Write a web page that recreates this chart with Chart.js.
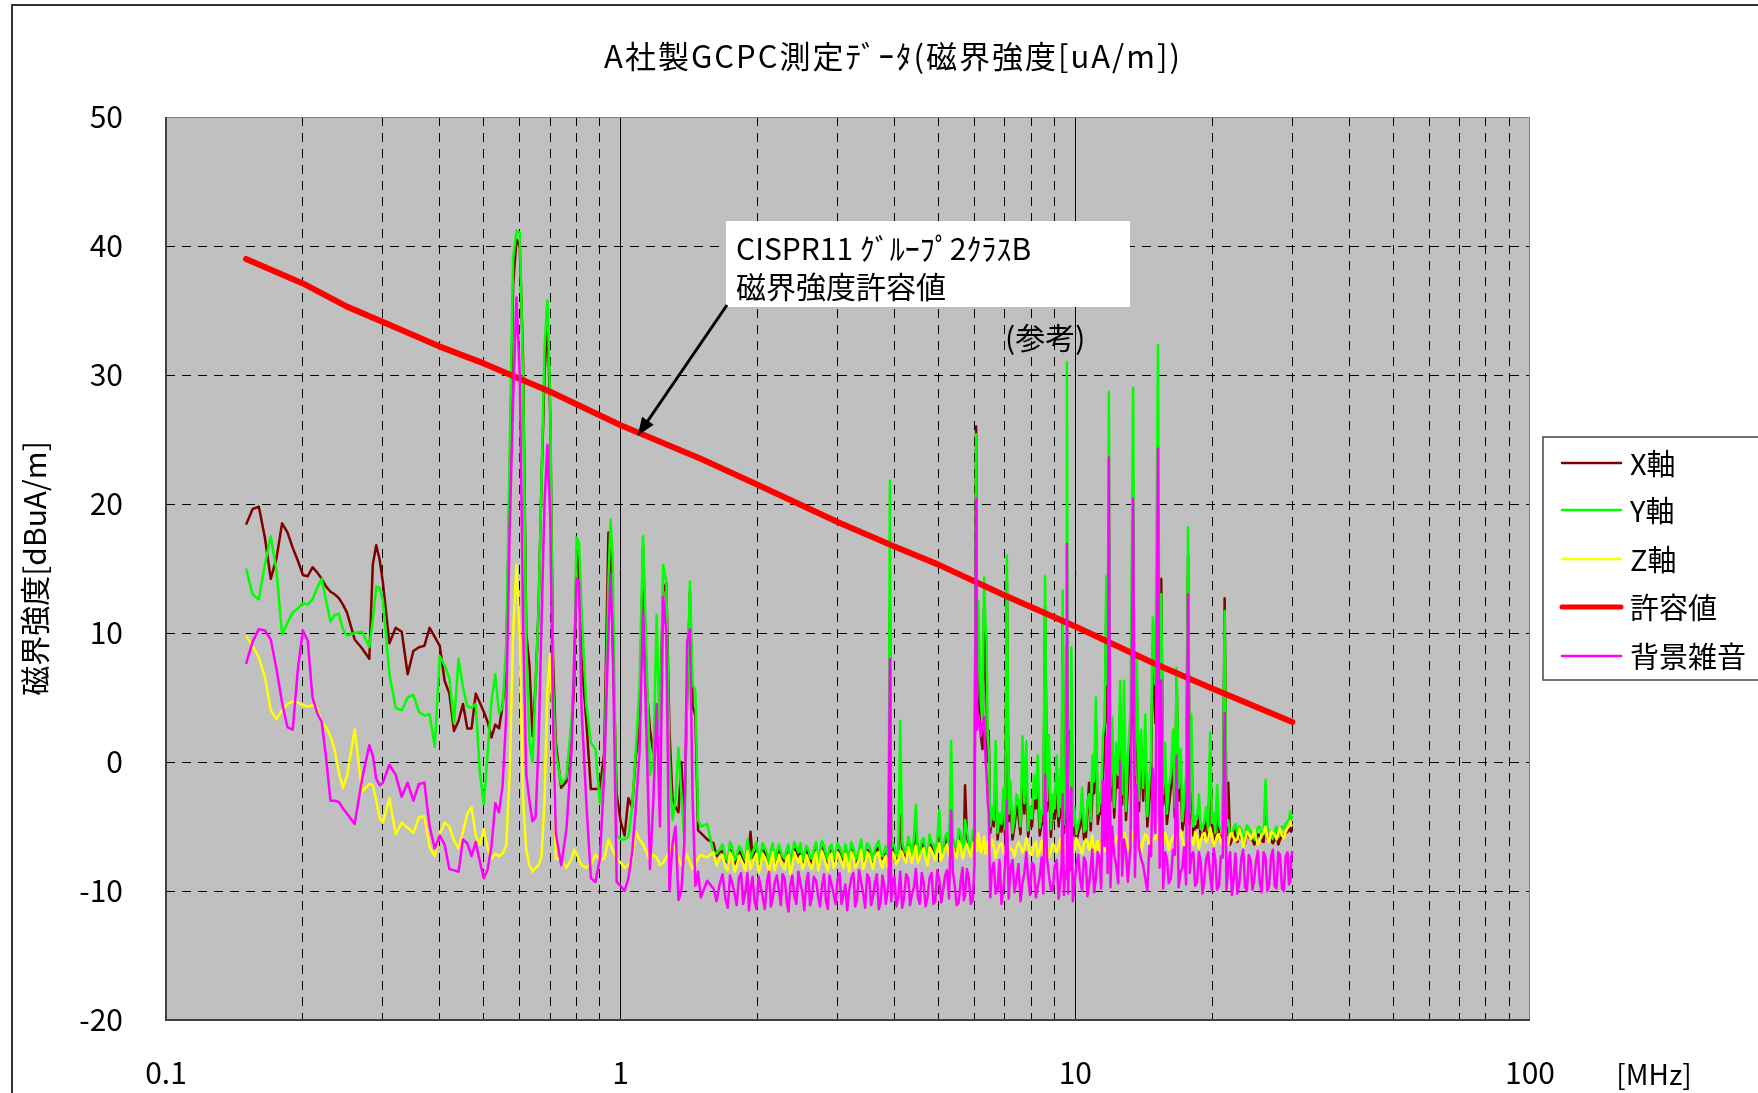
<!DOCTYPE html>
<html lang="ja">
<head>
<meta charset="utf-8">
<title>A社製GCPC測定データ</title>
<script src="https://cdn.jsdelivr.net/npm/chart.js@4.4.1/dist/chart.umd.min.js"></script>
<style>
  html, body { margin: 0; padding: 0; background: #fff; overflow: hidden; }
  canvas { display: block; }
</style>
</head>
<body>
<canvas id="magChart" width="1758" height="1093"></canvas>
<script>
const FONT = "'Noto Sans CJK JP', 'Noto Sans', sans-serif";

const chartTitle = 'A社製GCPC測定ﾃﾞｰﾀ(磁界強度[uA/m])';
const yTitle = '磁界強度[dBuA/m]';
const xUnit = '[MHz]';
const noteLines = ['CISPR11 ｸﾞﾙｰﾌﾟ2ｸﾗｽB', '磁界強度許容値'];
const refNote = '(参考)';
const seriesNames = ['X軸', 'Y軸', 'Z軸', '許容値', '背景雑音'];

// x axis: log grid lines and labelled decades
const xGridVals = [0.1, 0.2, 0.3, 0.4, 0.5, 0.6, 0.7, 0.8, 0.9,
  1, 2, 3, 4, 5, 6, 7, 8, 9,
  10, 20, 30, 40, 50, 60, 70, 80, 90, 100];
const xTickLabels = { 0.1: '0.1', 1: '1', 10: '10', 100: '100' };

// measured frequencies [MHz]
const freqMHz = [
  // 0.15 - 0.55
  0.150, 0.155, 0.160, 0.165, 0.170, 0.175, 0.180, 0.185, 0.190, 0.195,
  0.200, 0.205, 0.210, 0.215, 0.220, 0.225, 0.230, 0.235, 0.240, 0.245,
  0.250, 0.260, 0.270, 0.280, 0.285, 0.290, 0.295, 0.300, 0.310, 0.320,
  0.330, 0.340, 0.350, 0.360, 0.370, 0.380, 0.390, 0.400, 0.410, 0.420,
  0.430, 0.440, 0.450, 0.460, 0.470, 0.480, 0.490, 0.500, 0.510, 0.520,
  0.530, 0.540, 0.550,
  // 0.56 - 1.6
  0.56, 0.57, 0.58, 0.59, 0.60, 0.61, 0.62, 0.63, 0.64, 0.65,
  0.66, 0.67, 0.68, 0.69, 0.70, 0.71, 0.72, 0.74, 0.76, 0.78,
  0.79, 0.80, 0.81, 0.82, 0.84, 0.86, 0.88, 0.90, 0.92, 0.94,
  0.95, 0.96, 0.98, 1.00, 1.02, 1.04, 1.06, 1.08, 1.10, 1.12,
  1.14, 1.16, 1.18, 1.20, 1.22, 1.24, 1.26, 1.28, 1.30, 1.32,
  1.34, 1.36, 1.38, 1.40, 1.42, 1.44, 1.46, 1.48, 1.50, 1.55,
  1.60,
  // 1.6 - 30
  1.625, 1.65, 1.675, 1.70, 1.72, 1.74, 1.76, 1.78, 1.80, 1.82,
  1.84, 1.86, 1.88, 1.90, 1.915, 1.93, 1.95, 1.97, 1.99, 2.01,
  2.03, 2.05, 2.075, 2.10, 2.12, 2.14, 2.16, 2.18, 2.205, 2.23,
  2.25, 2.27, 2.295, 2.32, 2.34, 2.36, 2.385, 2.41, 2.435, 2.46,
  2.485, 2.51, 2.535, 2.56, 2.585, 2.61, 2.635, 2.66, 2.69, 2.72,
  2.745, 2.77, 2.80, 2.83, 2.855, 2.88, 2.91, 2.94, 2.97, 3.00,
  3.03, 3.06, 3.09, 3.12, 3.15, 3.18, 3.215, 3.25, 3.28, 3.31,
  3.345, 3.38, 3.415, 3.45, 3.485, 3.52, 3.555, 3.59, 3.625, 3.66,
  3.695, 3.73, 3.765, 3.80, 3.83, 3.86, 3.885, 3.91, 3.935, 3.96,
  4.00, 4.04, 4.08, 4.12, 4.16, 4.20, 4.245, 4.29, 4.33, 4.37,
  4.415, 4.46, 4.505, 4.55, 4.595, 4.64, 4.685, 4.73, 4.78, 4.83,
  4.875, 4.92, 4.97, 5.02, 5.07, 5.12, 5.17, 5.22, 5.275, 5.33,
  5.38, 5.43, 5.485, 5.54, 5.595, 5.65, 5.685, 5.72, 5.775, 5.83,
  5.89, 5.95, 6.00, 6.05, 6.085, 6.12, 6.16, 6.20, 6.25, 6.30,
  6.34, 6.38, 6.415, 6.45, 6.50, 6.55, 6.615, 6.68, 6.745, 6.81,
  6.88, 6.95, 7.01, 7.07, 7.135, 7.20, 7.275, 7.35, 7.425, 7.50,
  7.575, 7.65, 7.725, 7.80, 7.875, 7.95, 8.03, 8.11, 8.19, 8.27,
  8.35, 8.43, 8.505, 8.58, 8.665, 8.75, 8.835, 8.92, 9.01, 9.10,
  9.19, 9.28, 9.33, 9.38, 9.44, 9.50, 9.54, 9.58, 9.64, 9.70,
  9.75, 9.80, 9.875, 9.95, 10.05, 10.15, 10.25, 10.35, 10.45, 10.55,
  10.635, 10.72, 10.81, 10.90, 11.00, 11.10, 11.20, 11.30, 11.40, 11.50,
  11.60, 11.70, 11.775, 11.85, 11.95, 12.05, 12.175, 12.30, 12.425, 12.55,
  12.675, 12.80, 12.925, 13.05, 13.225, 13.40, 13.525, 13.65, 13.80, 13.95,
  14.10, 14.25, 14.40, 14.55, 14.675, 14.80, 15.00, 15.20, 15.325, 15.45,
  15.60, 15.75, 15.90, 16.05, 16.225, 16.40, 16.55, 16.70, 16.875, 17.05,
  17.20, 17.35, 17.525, 17.70, 17.85, 18.00, 18.175, 18.35, 18.525, 18.70,
  18.875, 19.05, 19.225, 19.40, 19.60, 19.80, 19.975, 20.15, 20.325, 20.50,
  20.70, 20.90, 21.10, 21.30, 21.50, 21.70, 21.90, 22.10, 22.30, 22.50,
  22.725, 22.95, 23.175, 23.40, 23.625, 23.85, 24.075, 24.30, 24.525, 24.75,
  24.975, 25.20, 25.45, 25.70, 25.95, 26.20, 26.45, 26.70, 26.95, 27.20,
  27.45, 27.70, 27.95, 28.20, 28.475, 28.75, 29.025, 29.30, 29.50, 29.70,
  29.85, 30.00
];

// X軸 [dBuA/m]
const xAxisVals = [
  18.4, 19.6, 19.8, 17.4, 14.2, 15.8, 18.5, 17.8, 16.6, 15.6,
  14.5, 14.4, 15.1, 14.7, 14.2, 13.6, 13.2, 13.0, 12.7, 12.2,
  11.6, 9.5, 8.8, 8.0, 15.3, 16.8, 15.7, 13.9, 9.2, 10.4,
  10.1, 6.8, 8.6, 8.9, 9.0, 10.4, 9.7, 9.0, 6.3, 5.3,
  2.4, 3.2, 4.5, 2.6, 2.6, 5.3, 4.6, 3.9, 3.1, 1.9,
  2.9, 2.6, 4.4,
  7, 22, 37, 40.5, 40.0, 31, 10, 7.5, 2.0, 6,
  12, 22, 30, 34.5, 27, 8, 1.5, -2.0, -1.5, 2.5,
  6, 16.4, 15, 8, 3.2, -2.1, -2.1, -2.1, 0.7, 17.8,
  17.8, 9.6, -2.5, -4.6, -5.7, -2.8, -3.5, 0.5, 2.5, 16.7,
  6, 2.5, 0.7, 2.5, 4, 13.2, 13.9, 2.5, -2.8, -3.5,
  -3.9, 0, -4.6, 5, 13.2, 4.3, 3.6, -5.3, -5.5, -6,
  -6.3,
  -7.3, -7.0, -6.9, -7.6, -7.8, -6.8, -7.0, -7.9, -7.5, -6.9,
  -7.1, -7.5, -7.8, -6.6, -7.0, -5.4, -7.4, -7.2, -6.8, -7.9,
  -7.6, -6.8, -7.0, -7.4, -7.9, -7.2, -6.9, -7.8, -7.3, -6.9,
  -7.2, -7.5, -7.7, -7.0, -6.8, -8.0, -7.4, -6.7, -7.0, -7.3,
  -6.8, -7.8, -7.5, -6.9, -7.1, -7.6, -7.8, -7.1, -6.7, -7.9,
  -7.3, -6.6, -6.9, -7.4, -7.8, -7.0, -6.8, -7.7, -7.4, -6.8,
  -7.0, -7.3, -7.6, -6.8, -7.2, -7.9, -6.7, -7.0, -7.8, -7.5,
  -7.1, -6.5, -7.7, -7.3, -6.8, -6.9, -7.3, -7.8, -7.0, -6.8,
  -6.6, -7.4, -7.5, -7.1, -6.9, -7.6, -7.3, 12.0, -7.1, -6.6,
  -6.9, -7.5, -7.3, -4.1, -6.7, -7.0, -7.4, -6.2, -6.8, -7.4,
  -6.4, -5.0, -7.4, -7.1, -6.5, -6.3, -7.1, -7.6, -6.1, -6.6,
  -6.8, -7.2, -6.5, -5.8, -7.3, -6.9, -6.2, -5.9, -7.0, -3.0,
  -6.3, -6.7, -7.1, -5.6, -6.0, -7.2, -6.9, -1.8, -5.8, -6.4,
  -7.2, -5.8, -5.6, 26.0, 3.0, 10.5, 5.0, 2.0, 1.0, 12.0,
  8.0, 5.0, 0.0, 2.4, -5.5, -4.0, -5.0, -1.0, -6.0, -4.8,
  -5.4, -3.5, -5.8, 14.0, -4.6, -3.0, -6.0, -5.0, -3.4, -4.2,
  -5.6, -1.0, -4.0, -1.5, -5.8, -4.5, -5.0, -3.0, -3.6, -2.0,
  -5.7, -4.8, -4.8, 12.0, -3.8, -1.0, -5.8, -4.0, -4.4, -2.5,
  -5.0, -3.0, -4.3, 11.0, -5.5, -4.0, -3.8, 9.0, -5.2, 2.4,
  -4.5, 5.0, -5.7, -4.5, -6.2, -5.5, -5.0, -4.0, -6.0, -5.8,
  -3.8, -1.6, -5.3, -2.5, -2.4, 3.0, -4.8, -4.0, -4.0, -1.0,
  1.0, 12.0, 3.0, 10.0, -3.0, 1.0, -4.3, -1.0, -2.0, 4.5,
  -3.3, 3.0, -4.5, -2.0, 2.0, 5.8, -2.0, 5.8, -3.8, 1.1,
  -3.0, 1.0, -5.0, -3.0, -1.0, 9.0, 3.0, 12.0, 2.0, 14.2,
  -3.3, -1.0, -4.8, -3.5, -2.0, 0.0, -4.3, 6.5, -3.0, -1.5,
  -5.3, -4.5, -2.0, 16.0, -4.8, 1.0, -5.7, -5.0, -5.1, -4.0,
  -5.9, -5.8, -5.3, -4.5, -6.0, 0.5, -5.4, -5.0, -6.1, -3.0,
  -5.6, -5.8, -6.0, 12.7, -5.7, -1.6, -6.4, -6.0, -5.8, -5.3,
  -6.2, -5.5, -5.9, -6.2, -6.3, -5.4, -5.8, -6.0, -6.0, -6.4,
  -6.1, -5.6, -5.7, -6.1, -6.2, -3.0, -5.9, -5.8, -6.1, -6.3,
  -6.0, -5.5, -6.4, -6.0, -5.7, -5.7, -5.5, -5.4, -5.3, -5.0,
  -5.4, -5.2
];

// Y軸 [dBuA/m]
const yAxisVals = [
  15.0, 13.0, 12.6, 15.3, 17.5, 14.8, 9.9, 10.8, 11.6, 11.9,
  12.3, 12.2, 12.6, 13.5, 14.2, 12.5, 10.9, 11.4, 11.5, 10.3,
  9.8, 10.0, 10.1, 8.9, 11.0, 13.6, 13.5, 12.5, 6.8, 4.2,
  4.0, 5.0, 5.2, 3.9, 3.6, 3.7, 1.2, 8.2, 7.5, 6.5,
  3.0, 8.0, 5.8, 4.3, 4.2, 4.5, -0.8, -3.3, 0.8, 4.8,
  6.8, 3.8, 4.2,
  9, 24, 39, 41.2, 41.0, 30, 9, 1.5, 0, 6,
  12, 22, 32, 35.8, 28, 6, 0.7, -1.7, -1.2, 3.4,
  7, 17.4, 17, 12, 4.5, 1.5, 1.0, -3.2, -0.5, 14,
  18.8, 16, -5.7, -6.0, -6.0, -5.8, -3.5, 1.0, 6.0, 17.5,
  8.0, -1.0, 0.0, 11.4, 1.0, 15.3, 14, 0, -4.5, -3.0,
  1.1, -2.5, -6.0, 5, 14.0, 6.0, 5.5, -4.5, -5.0, -4.8,
  -7.0,
  -7.1, -6.8, -6.4, -7.4, -7.7, -6.2, -6.6, -7.6, -7.3, -6.5,
  -6.7, -7.2, -7.6, -6.0, -6.8, -7.5, -7.0, -6.6, -6.2, -7.8,
  -7.4, -6.3, -6.6, -7.1, -7.8, -6.9, -6.3, -7.7, -7.0, -6.4,
  -6.9, -7.3, -7.5, -6.7, -6.4, -7.9, -7.1, -6.2, -6.6, -7.0,
  -6.3, -7.6, -7.2, -6.5, -6.7, -7.4, -7.5, -6.8, -6.2, -7.7,
  -7.0, -6.1, -6.5, -7.2, -7.6, -6.6, -6.4, -7.5, -7.1, -6.3,
  -6.6, -7.0, -7.4, -6.4, -6.9, -7.8, -6.2, -6.7, -7.6, -7.3,
  -6.8, -6.0, -7.5, -7.1, -6.3, -6.5, -7.0, -7.6, -6.7, -6.4,
  -6.1, -7.2, -7.3, -6.9, -6.5, -7.4, -7.0, 21.8, -6.8, -6.2,
  -6.5, -7.3, -7.0, 3.2, -6.2, -6.8, -7.1, -5.8, -6.4, -7.2,
  -5.9, -3.3, -7.2, -6.9, -6.1, -5.9, -6.8, -7.5, -5.6, -6.3,
  -6.4, -7.0, -6.0, -3.7, -7.1, -6.6, -5.8, -5.5, -6.7, 1.6,
  -5.9, -6.4, -6.8, -5.2, -5.5, -7.0, -6.6, -4.5, -5.3, -6.2,
  -6.9, -5.4, -5.0, 25.4, 5.0, 12.5, 8.0, 4.5, 3.0, 14.3,
  11.0, 9.6, 2.0, 1.0, -5.0, -3.5, -4.5, 1.6, -5.5, -4.0,
  -4.8, -2.0, -5.2, 16.0, -4.0, -1.5, -5.5, -4.2, -2.5, -3.0,
  -5.0, 2.0, -3.2, 1.6, -5.3, -3.5, -4.4, -1.0, -2.8, 0.5,
  -5.1, -3.8, -4.0, 14.4, -3.0, 2.1, -5.2, -2.5, -3.6, 0.5,
  -4.2, -0.5, -3.5, 13.3, -4.8, -2.0, -3.0, 31.0, -4.5, -1.5,
  -3.8, 8.9, -5.0, -3.5, -5.6, -4.8, -4.3, -2.0, -5.4, -5.2,
  -3.0, -2.5, -4.6, 0.5, -1.5, 5.0, -4.0, -2.5, -3.2, 2.0,
  3.0, 14.4, 6.0, 28.7, -2.0, 3.5, -3.5, 1.5, -1.0, 6.3,
  -2.5, 6.3, -3.8, 0.5, 4.0, 29.0, -1.0, 8.3, -3.0, 2.5,
  -2.0, 3.7, -4.2, -1.5, 0.5, 11.2, 6.0, 32.3, 3.0, 13.0,
  -2.5, 1.5, -4.0, -2.0, -1.0, 2.5, -3.5, 7.3, -2.0, 1.0,
  -4.6, -3.0, -1.0, 18.2, -4.0, 3.7, -5.0, -4.2, -4.4, -2.5,
  -5.2, -5.0, -4.6, -3.5, -5.3, 2.3, -4.7, -4.0, -5.5, -1.8,
  -4.9, -5.2, -5.4, 11.7, -5.0, -4.5, -5.8, -5.6, -5.1, -4.8,
  -5.6, -5.0, -5.2, -5.8, -5.7, -4.9, -5.1, -5.5, -5.4, -6.0,
  -5.5, -5.1, -5.0, -5.7, -5.6, -1.4, -5.2, -5.3, -5.5, -5.9,
  -5.4, -5.0, -5.8, -5.6, -5.0, -5.2, -4.8, -4.6, -4.5, -3.8,
  -4.4, -4.2
];

// Z軸 [dBuA/m]
const zAxisVals = [
  9.8, 9.0, 8.1, 6.6, 4.0, 3.3, 4.0, 4.5, 4.7, 4.6,
  4.4, 4.3, 4.4, 4.2, 3.1, 2.7, 2.0, 0.9, -0.8, -2.0,
  -1.1, 2.5, -2.3, -1.7, -1.8, -3.0, -4.3, -4.7, -2.8, -5.6,
  -4.7, -5.1, -5.5, -4.3, -4.2, -6.6, -7.3, -5.6, -4.7, -5.0,
  -6.1, -6.7, -5.4, -4.0, -3.5, -5.7, -6.4, -5.2, -6.7, -7.5,
  -7.1, -7.3, -7.1,
  -6.5, -1, 10, 15.3, 9.6, -3, -6.8, -8, -8.5, -8.2,
  -8.0, -7.3, -3, 5.5, 8.4, 2, -7.5, -7.5, -8.2, -7.5,
  -6.8, -7.1, -7.6, -8.0, -8.2, -7.9, -7.2, -7.6, -7.5, -6.0,
  -6.4, -6.8, -7.5, -7.8, -8.2, -8.0, -7.5, -5.4, -6.0, -6.4,
  -7.0, -7.6, -7.2, -7.4, -8.0, -7.8, -7.4, -7.0, -6.4, -6.8,
  -7.5, -8.0, -7.6, -7.2, -7.8, -8.3, -7.9, -7.5, -7.2, -7.4,
  -7.0,
  -8.0, -7.5, -7.2, -8.2, -8.4, -7.0, -7.4, -8.5, -8.1, -7.3,
  -7.6, -8.0, -8.4, -6.9, -7.5, -8.3, -7.9, -7.4, -7.1, -8.6,
  -8.2, -7.1, -7.4, -7.9, -8.6, -7.6, -7.0, -8.4, -7.9, -7.2,
  -7.7, -8.1, -8.3, -7.4, -7.2, -8.7, -8.0, -7.0, -7.5, -7.8,
  -7.3, -8.3, -8.0, -7.2, -7.6, -8.1, -8.3, -7.5, -7.0, -8.4,
  -7.8, -6.9, -7.4, -8.0, -8.4, -7.3, -7.1, -8.2, -7.9, -7.0,
  -7.3, -7.8, -8.2, -7.1, -7.7, -8.5, -7.0, -7.4, -8.2, -8.0,
  -7.5, -6.8, -8.3, -7.9, -7.0, -7.2, -7.8, -8.3, -7.4, -7.1,
  -7.0, -7.9, -8.2, -7.5, -7.3, -8.1, -7.6, -6.8, -7.8, -7.0,
  -7.3, -7.9, -7.6, -6.9, -7.0, -7.5, -7.8, -6.6, -7.2, -7.8,
  -7.1, -6.5, -7.8, -7.4, -6.9, -6.7, -7.5, -8.0, -6.6, -6.9,
  -7.2, -7.6, -6.8, -6.3, -7.6, -7.2, -6.7, -6.4, -7.3, -6.0,
  -6.6, -7.1, -7.4, -6.1, -6.5, -7.5, -7.2, -6.6, -6.4, -6.9,
  -7.3, -6.3, -6.5, -6.0, -6.9, -5.5, -6.3, -7.0, -6.6, -5.8,
  -7.1, -6.5, -6.2, -7.2, -7.0, -6.0, -6.5, -7.4, -6.9, -6.4,
  -6.3, -7.0, -7.2, -5.6, -6.4, -6.8, -6.8, -7.3, -6.6, -6.2,
  -6.5, -7.0, -6.7, -5.9, -6.4, -7.1, -7.2, -6.5, -6.2, -7.3,
  -6.8, -6.1, -7.2, -6.8, -6.5, -7.4, -6.9, -6.3, -6.6, -7.0,
  -6.5, -5.9, -7.0, -6.7, -6.4, -7.2, -6.8, -6.0, -7.3, -6.9,
  -6.4, -5.8, -6.6, -7.0, -5.9, -6.4, -6.7, -7.1, -6.3, -6.0,
  -6.2, -6.8, -6.4, -5.7, -7.0, -6.6, -6.1, -7.0, -6.5, -5.8,
  -6.9, -6.4, -6.0, -5.2, -6.3, -6.9, -6.5, -5.9, -5.7, -6.6,
  -6.2, -5.5, -5.9, -6.8, -6.4, -5.4, -5.8, -6.3, -6.2, -7.0,
  -6.1, -5.6, -5.8, -6.5, -6.6, -5.9, -6.0, -4.8, -5.6, -6.2,
  -6.4, -5.5, -5.9, -6.8, -6.2, -5.8, -5.6, -6.3, -6.0, -5.3,
  -5.9, -6.6, -6.3, -5.0, -5.7, -6.1, -6.4, -5.4, -5.8, -6.7,
  -6.1, -5.6, -5.5, -6.2, -6.0, -5.1, -5.8, -6.5, -6.2, -5.7,
  -5.6, -6.3, -5.9, -5.3, -6.1, -6.4, -5.6, -5.5, -5.9, -6.1,
  -6.0, -5.2, -5.7, -6.6, -6.1, -5.4, -5.6, -6.0, -5.8, -5.3,
  -5.9, -6.4, -6.1, -5.6, -5.5, -5.0, -5.8, -6.2, -5.4, -5.5,
  -5.6, -6.0, -5.5, -5.2, -5.7, -5.9, -5.4, -5.1, -5.0, -4.6,
  -4.9, -5.0
];

// 背景雑音 [dBuA/m]
const bgNoiseVals = [
  7.6, 9.3, 10.3, 10.2, 9.5, 7.2, 4.6, 2.7, 2.5, 7.2,
  10.2, 9.4, 5.0, 3.8, 3.1, 0.3, -3.0, -3.0, -3.1, -3.6,
  -4.0, -4.8, -1.3, 1.3, 0.5, -1.3, -1.8, -1.6, -0.2, -1.0,
  -2.7, -1.6, -3.0, -1.7, -1.6, -5.0, -6.7, -5.7, -6.4, -8.3,
  -8.4, -8.5, -6.0, -6.3, -7.3, -6.2, -7.7, -9.0, -8.3, -6.5,
  -3.2, -3.9, -1.8,
  3.5, 18, 28, 36, 30, 11, -1.0, -3, -4.6, -4.3,
  1.5, 11, 20, 24.6, 19, 3, -5.5, -8.0, -5.2, 1,
  8, 14.2, 13.9, 4.3, -3, -9, -9.3, -7.5, -1, 10,
  14.6, 10, -9.3, -9.6, -10, -9.0, -7, -3.5, 0.7, 11.7,
  2, -8.3, -3, 4.5, -5, 12.8, 10, -10, -6.4, -5.0,
  -10.7, -10, -6.4, 9.3, 10.3, -3, -9.6, -8.5, -10.5, -9.2,
  -9.8,
  -10.8, -9.5, -8.7, -10.6, -11.3, -8.8, -9.4, -10.2, -11.1, -9.0,
  -8.6, -11.0, -10.1, -8.6, -11.5, -9.9, -8.9, -10.8, -11.4, -8.9,
  -9.6, -10.3, -11.4, -9.2, -8.5, -11.2, -10.6, -9.4, -8.8, -10.0,
  -11.1, -8.7, -9.0, -10.9, -11.6, -9.6, -8.8, -10.4, -11.0, -8.5,
  -9.4, -10.1, -11.5, -9.3, -8.6, -11.1, -10.4, -8.9, -9.2, -10.5,
  -11.2, -9.7, -8.7, -10.8, -11.4, -8.8, -9.5, -10.2, -11.0, -9.1,
  -8.6, -11.0, -10.3, -9.5, -11.5, -10.0, -9.0, -8.6, -11.2, -10.7,
  -8.4, -9.3, -10.2, -11.3, -8.7, -9.0, -11.1, -10.4, -9.3, -8.7,
  -11.4, -10.9, -8.8, -9.6, -11.0, -10.1, -9.3, 8.0, -10.8, -9.2,
  -8.9, -11.2, -10.4, -8.5, -11.3, -10.6, -8.7, -9.0, -11.1, -10.3,
  -9.7, -8.3, -10.5, -11.0, -8.6, -9.4, -11.2, -10.5, -9.0, -8.6,
  -11.0, -10.8, -8.4, -9.1, -10.9, -10.0, -8.8, -8.4, -10.6, -3.8,
  -8.5, -9.6, -11.1, -10.9, -9.2, -8.2, -10.7, -10.4, -8.3, -9.0,
  -11.0, -10.7, -8.0, 20.4, 2.5, 3.7, 3.0, 2.0, 2.8, 3.5,
  0.5, -1.0, -3.0, -4.0, -10.5, -8.5, -7.8, -10.2, -9.9, -7.6,
  -11.0, -9.8, -8.0, -3.0, -10.6, -8.2, -7.6, -10.1, -9.0, -7.9,
  -10.8, -9.4, -8.6, -7.0, -9.0, -10.3, -7.8, -8.0, -10.5, -9.6,
  -8.9, -7.4, -10.2, -1.0, -7.5, -8.8, -9.9, -10.0, -8.1, -7.6,
  -10.6, -9.2, -7.9, -2.5, -10.3, -8.5, -9.0, 16.9, -10.2, -6.5,
  -8.4, -2.0, -10.8, -9.7, -8.0, -7.2, -9.1, -10.0, -7.4, -7.8,
  -10.4, -9.5, -8.2, -6.8, -10.1, -9.0, -7.0, -7.5, -9.8, -1.5,
  -6.5, 2.0, -8.6, 23.6, -9.7, -5.0, -7.2, -8.0, -9.4, 0.0,
  -8.8, -6.0, -7.0, -9.3, -6.4, 20.4, -8.9, -1.8, -6.6, -7.5,
  -8.0, -9.0, -10.0, -6.5, -7.3, -0.5, -5.5, 24.3, -8.2, 6.3,
  -9.8, -7.0, -7.5, -9.4, -9.0, -6.8, -7.2, 0.5, -9.7, -8.5,
  -8.2, -6.6, -9.5, 13.0, -8.6, -7.2, -7.0, -9.6, -9.3, -7.0,
  -7.8, -10.2, -9.1, -7.5, -7.0, -8.8, -10.0, -6.7, -7.6, -9.9,
  -9.6, -7.3, -7.4, 3.8, -9.9, -8.0, -7.0, -10.3, -9.0, -7.1,
  -10.2, -9.4, -7.5, -6.8, -9.7, -10.0, -7.2, -7.6, -9.9, -9.1,
  -7.7, -6.9, -9.3, -10.1, -7.0, -7.4, -10.0, -9.5, -7.3, -6.8,
  -9.6, -9.8, -7.0, -7.2, -9.8, -10.0, -7.3, -7.0, -9.5, -9.3,
  -7.4, -6.9
];

// 許容値 (CISPR11 group 2 class B)
const limitFreq = [0.15, 0.2, 0.25, 0.3, 0.4, 0.5, 0.7, 1, 1.5, 2, 3, 4, 5, 7, 10, 15, 20, 30];
const limitVals = [39.0, 37.1, 35.3, 34.1, 32.2, 30.9, 28.7, 26.1, 23.5, 21.5, 18.6, 16.7, 15.3, 12.9, 10.5, 7.6, 5.7, 3.1];

// where the note arrow points
const arrowFreq = 1.09;
const arrowLevel = 25.3;

const toPoints = (fs, vs) => fs.map((f, i) => ({ x: f, y: vs[i] }));

Chart.defaults.font.family = FONT;
Chart.defaults.color = '#000';

const decor = {
  id: 'decor',
  beforeDraw(chart) {
    const { ctx, chartArea: a } = chart;
    ctx.save();
    ctx.fillStyle = '#fff';
    ctx.fillRect(0, 0, chart.width, chart.height);
    ctx.strokeStyle = '#333';
    ctx.lineWidth = 2;
    ctx.beginPath();
    ctx.moveTo(12, chart.height);
    ctx.lineTo(12, 5);
    ctx.lineTo(chart.width, 5);
    ctx.stroke();
    ctx.fillStyle = '#c0c0c0';
    ctx.fillRect(a.left, a.top, a.right - a.left, a.bottom - a.top);
    ctx.restore();
  },
  afterDraw(chart) {
    const { ctx, chartArea: a, scales } = chart;
    ctx.save();

    // plot frame
    ctx.lineWidth = 1;
    ctx.strokeStyle = '#808080';
    ctx.strokeRect(a.left + 0.5, a.top + 0.5, a.right - a.left - 1, a.bottom - a.top - 1);
    ctx.lineWidth = 2;
    ctx.strokeStyle = '#404040';
    ctx.beginPath();
    ctx.moveTo(a.left, a.top);
    ctx.lineTo(a.left, a.bottom);
    ctx.lineTo(a.right, a.bottom);
    ctx.stroke();

    // title and unit
    ctx.fillStyle = '#000';
    ctx.textAlign = 'center';
    ctx.textBaseline = 'middle';
    ctx.font = '31px ' + FONT;
    ctx.letterSpacing = '2px';
    ctx.fillText(chartTitle, 893, 56);
    ctx.letterSpacing = '0px';
    ctx.font = '28px ' + FONT;
    ctx.fillText(xUnit, 1654, 1074);

    // note box
    ctx.fillStyle = '#fff';
    ctx.fillRect(726, 221, 404, 86);
    ctx.fillStyle = '#000';
    ctx.textAlign = 'left';
    ctx.font = '30px ' + FONT;
    ctx.fillText(noteLines[0], 736, 249);
    ctx.fillText(noteLines[1], 736, 287);
    ctx.fillText(refNote, 1005, 338);

    // arrow to the limit line
    const tipX = scales.x.getPixelForValue(arrowFreq);
    const tipY = scales.y.getPixelForValue(arrowLevel);
    const sx = 727, sy = 305;
    const ang = Math.atan2(tipY - sy, tipX - sx);
    const c = Math.cos(ang), s = Math.sin(ang);
    ctx.strokeStyle = '#000';
    ctx.lineWidth = 3;
    ctx.beginPath();
    ctx.moveTo(sx, sy);
    ctx.lineTo(tipX - 12 * c, tipY - 12 * s);
    ctx.stroke();
    ctx.beginPath();
    ctx.moveTo(tipX, tipY);
    ctx.lineTo(tipX - 18 * c + 7 * s, tipY - 18 * s - 7 * c);
    ctx.lineTo(tipX - 18 * c - 7 * s, tipY - 18 * s + 7 * c);
    ctx.closePath();
    ctx.fill();

    // legend
    ctx.fillStyle = '#fff';
    ctx.fillRect(1543, 437, 230, 243);
    ctx.strokeStyle = '#444';
    ctx.lineWidth = 1.5;
    ctx.strokeRect(1543, 437, 230, 243);
    const rows = [463, 510, 559, 607, 656];
    ctx.font = '29px ' + FONT;
    ctx.textBaseline = 'middle';
    chart.data.datasets.forEach((ds, i) => {
      ctx.strokeStyle = ds.borderColor;
      ctx.lineWidth = Math.min(ds.borderWidth, 5);
      ctx.lineCap = 'round';
      ctx.beginPath();
      ctx.moveTo(1562, rows[i]);
      ctx.lineTo(1621, rows[i]);
      ctx.stroke();
      ctx.fillStyle = '#000';
      ctx.fillText(ds.label, 1630, rows[i] + 1);
    });

    ctx.restore();
  }
};

const chart = new Chart(document.getElementById('magChart'), {
  type: 'line',
  data: {
    datasets: [
      { label: seriesNames[0], data: toPoints(freqMHz, xAxisVals), borderColor: '#800000', borderWidth: 2.5, order: 5 },
      { label: seriesNames[1], data: toPoints(freqMHz, yAxisVals), borderColor: '#00ff00', borderWidth: 2.5, order: 4 },
      { label: seriesNames[2], data: toPoints(freqMHz, zAxisVals), borderColor: '#ffff00', borderWidth: 2.5, order: 3 },
      { label: seriesNames[3], data: toPoints(limitFreq, limitVals), borderColor: '#ff0000', borderWidth: 6, borderCapStyle: 'round', order: 2 },
      { label: seriesNames[4], data: toPoints(freqMHz, bgNoiseVals), borderColor: '#ff00ff', borderWidth: 2.5, order: 1 }
    ]
  },
  options: {
    responsive: false,
    animation: false,
    events: [],
    layout: { padding: { left: 0, right: 228, top: 117, bottom: 0 } },
    elements: {
      point: { radius: 0 },
      line: { tension: 0, borderJoinStyle: 'round', fill: false }
    },
    plugins: {
      legend: { display: false },
      tooltip: { enabled: false },
      title: { display: false }
    },
    scales: {
      x: {
        type: 'logarithmic',
        min: 0.1,
        max: 100,
        afterBuildTicks: (s) => { s.ticks = xGridVals.map(v => ({ value: v })); },
        afterFit: (s) => { s.height = 73; },
        ticks: {
          autoSkip: false,
          maxRotation: 0,
          padding: 35,
          font: { size: 30 },
          color: '#000',
          callback: (v) => xTickLabels[v] || ''
        },
        grid: {
          drawTicks: false,
          lineWidth: 1,
          color: (ctx) => (ctx.tick && (ctx.tick.value === 0.1 || ctx.tick.value === 100)) ? 'rgba(0,0,0,0)' : '#000'
        },
        border: {
          display: false,
          dash: (ctx) => (ctx.tick && (ctx.tick.value === 1 || ctx.tick.value === 10)) ? [] : [9, 7]
        }
      },
      y: {
        min: -20,
        max: 50,
        afterFit: (s) => { s.width = 166; },
        ticks: { stepSize: 10, padding: 43, font: { size: 30 }, color: '#000' },
        grid: {
          drawTicks: false,
          lineWidth: 1,
          color: (ctx) => (ctx.tick && (ctx.tick.value === 50 || ctx.tick.value === -20)) ? 'rgba(0,0,0,0)' : '#000'
        },
        border: { display: false, dash: [9, 7] },
        title: {
          display: true,
          text: yTitle,
          font: { size: 30 },
          color: '#000',
          padding: { top: 17, bottom: 0 }
        }
      }
    }
  },
  plugins: [decor]
});
</script>
</body>
</html>
